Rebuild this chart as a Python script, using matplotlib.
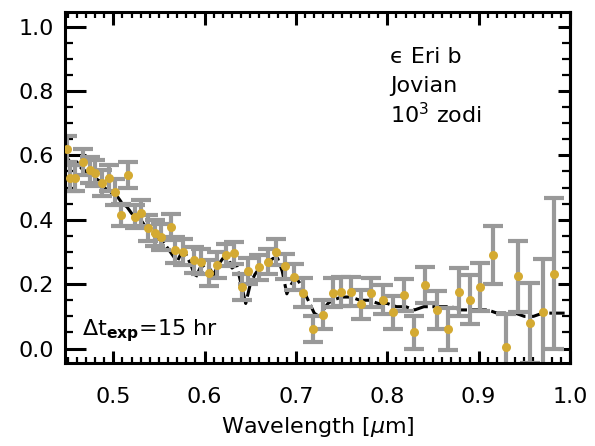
import numpy as np
import matplotlib
matplotlib.use("Agg")
import matplotlib.pyplot as plt
from matplotlib.ticker import MultipleLocator, FormatStrFormatter

# Simulated albedo points (wavelength in micron)
wavelength = [0.449, 0.453, 0.458, 0.467, 0.475, 0.480, 0.488, 0.495, 0.502, 0.508,
              0.516, 0.524, 0.530, 0.538, 0.546, 0.552, 0.563, 0.568, 0.576, 0.588,
              0.596, 0.605, 0.614, 0.623, 0.632, 0.641, 0.648, 0.659, 0.669, 0.678,
              0.688, 0.698, 0.708, 0.719, 0.730, 0.741, 0.749, 0.760, 0.771, 0.782,
              0.795, 0.806, 0.818, 0.829, 0.841, 0.854, 0.866, 0.878, 0.890, 0.902,
              0.916, 0.930, 0.943, 0.956, 0.970, 0.983]
albedo = [0.62, 0.53, 0.53, 0.58, 0.555, 0.545, 0.515, 0.53, 0.487, 0.415,
          0.54, 0.41, 0.42, 0.375, 0.36, 0.347, 0.378, 0.307, 0.30, 0.276,
          0.27, 0.235, 0.26, 0.29, 0.297, 0.19, 0.24, 0.252, 0.27, 0.30,
          0.255, 0.222, 0.173, 0.06, 0.105, 0.173, 0.177, 0.177, 0.137, 0.173,
          0.152, 0.112, 0.167, 0.05, 0.198, 0.12, 0.06, 0.176, 0.152, 0.192,
          0.29, 0.006, 0.224, 0.08, 0.112, 0.233]
albedo_err = [0.04, 0.04, 0.04, 0.04, 0.04, 0.04, 0.04, 0.04, 0.04, 0.035,
              0.04, 0.035, 0.04, 0.04, 0.04, 0.04, 0.04, 0.04, 0.04, 0.04,
              0.04, 0.04, 0.04, 0.035, 0.035, 0.04, 0.04, 0.04, 0.04, 0.04,
              0.04, 0.04, 0.045, 0.04, 0.045, 0.045, 0.045, 0.045, 0.045, 0.045,
              0.045, 0.05, 0.05, 0.05, 0.055, 0.06, 0.065, 0.075, 0.075, 0.075,
              0.09, 0.10, 0.11, 0.125, 0.165, 0.235]

# Model spectrum (black curve)
model_wl = [0.450, 0.455, 0.460, 0.465, 0.470, 0.475, 0.480, 0.485, 0.490, 0.495,
            0.500, 0.505, 0.510, 0.515, 0.520, 0.525, 0.530, 0.535, 0.540, 0.545,
            0.550, 0.555, 0.560, 0.565, 0.570, 0.575, 0.580, 0.585, 0.590, 0.595,
            0.600, 0.605, 0.610, 0.615, 0.620, 0.625, 0.630, 0.635, 0.640, 0.645,
            0.650, 0.655, 0.660, 0.665, 0.670, 0.675, 0.680, 0.685, 0.690, 0.695,
            0.700, 0.705, 0.710, 0.715, 0.720, 0.725, 0.730, 0.735, 0.740, 0.750,
            0.760, 0.770, 0.780, 0.790, 0.800, 0.810, 0.820, 0.830, 0.840, 0.850,
            0.860, 0.870, 0.880, 0.890, 0.900, 0.910, 0.920, 0.930, 0.940, 0.950,
            0.960, 0.970, 0.980, 0.990, 1.000]
model_alb = [0.59, 0.57, 0.58, 0.56, 0.55, 0.54, 0.53, 0.52, 0.50, 0.49,
             0.48, 0.47, 0.45, 0.44, 0.42, 0.41, 0.40, 0.38, 0.37, 0.35,
             0.34, 0.33, 0.31, 0.29, 0.27, 0.30, 0.29, 0.26, 0.22, 0.25,
             0.26, 0.25, 0.23, 0.26, 0.28, 0.29, 0.25, 0.26, 0.20, 0.14,
             0.20, 0.23, 0.25, 0.26, 0.27, 0.28, 0.28, 0.24, 0.17, 0.20,
             0.22, 0.20, 0.17, 0.14, 0.11, 0.10, 0.12, 0.14, 0.15, 0.16,
             0.16, 0.15, 0.15, 0.14, 0.14, 0.13, 0.13, 0.12, 0.13, 0.13,
             0.13, 0.13, 0.12, 0.12, 0.12, 0.12, 0.11, 0.11, 0.11, 0.10,
             0.10, 0.11, 0.11, 0.11, 0.11]

plt.rcParams['font.family'] = ['DejaVu Sans']
plt.rcParams['mathtext.fontset'] = 'dejavusans'

fig = plt.figure(figsize=(5.95, 4.46), dpi=100)
ax = fig.add_axes([0.109, 0.186, 0.849, 0.787])

ax.plot(model_wl, model_alb, color='black', lw=2.2, dashes=(5, 1.5), zorder=1)
ax.errorbar(wavelength, albedo, yerr=albedo_err, fmt='none', ecolor='#999999',
            elinewidth=3, capsize=7.5, capthick=3, zorder=2)
ax.plot(wavelength, albedo, 'o', color='#D4AA32', ms=6.5, mec='none', zorder=3)

ax.set_xlim(0.447, 1.0)
ax.set_ylim(-0.045, 1.045)

ax.xaxis.set_major_locator(MultipleLocator(0.1))
ax.xaxis.set_minor_locator(MultipleLocator(0.01))
ax.yaxis.set_major_locator(MultipleLocator(0.2))
ax.yaxis.set_minor_locator(MultipleLocator(0.05))
ax.xaxis.set_major_formatter(FormatStrFormatter('%.1f'))
ax.yaxis.set_major_formatter(FormatStrFormatter('%.1f'))

for s in ax.spines.values():
    s.set_linewidth(2.2)

ax.tick_params(axis='x', which='major', direction='in', length=9, width=2.2,
               labelsize=16, pad=17, top=True)
ax.tick_params(axis='x', which='minor', direction='in', length=4, width=1.6, top=True)
ax.tick_params(axis='y', which='major', direction='in', length=15, width=2.2,
               labelsize=16, pad=8)
ax.tick_params(axis='y', which='minor', direction='in', length=5.5, width=1.6)

# right side ticks are shorter
ax2 = ax.secondary_yaxis('right')
ax2.yaxis.set_major_locator(MultipleLocator(0.2))
ax2.yaxis.set_minor_locator(MultipleLocator(0.05))
ax2.tick_params(which='major', direction='in', length=9, width=2.2, labelright=False)
ax2.tick_params(which='minor', direction='in', length=5.5, width=1.6)
ax2.spines['right'].set_linewidth(2.2)

ax.set_xlabel(r'Wavelength [$\mu$m]', fontsize=16, labelpad=6)

ax.text(0.644, 0.872, '\u03f5 Eri b', transform=ax.transAxes, fontsize=16, va='center')
ax.text(0.644, 0.79, 'Jovian', transform=ax.transAxes, fontsize=16, va='center')
ax.text(0.644, 0.708, r'10$^3$ zodi', transform=ax.transAxes, fontsize=16, va='center')
ax.text(0.034, 0.08, r'$\Delta$t$_{\mathbf{exp}}$=15 hr', transform=ax.transAxes,
        fontsize=16, va='baseline')

fig.savefig('out.png', dpi=100)
